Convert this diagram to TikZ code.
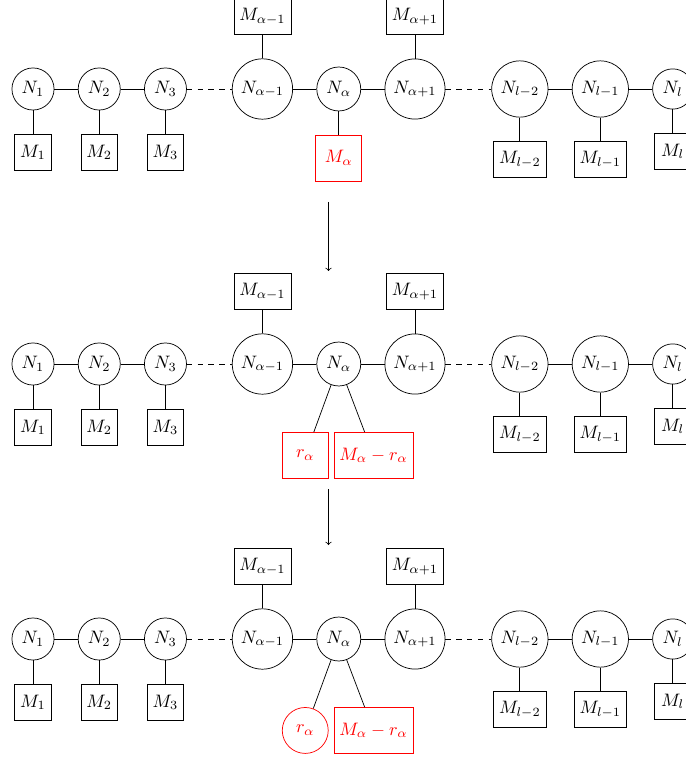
\documentclass[tikz,border=0pt]{standalone}
\usepackage{amsmath}
\usetikzlibrary{positioning}

\begin{document}
\begin{tikzpicture}[x=0.555pt,y=0.555pt,node distance=13pt,inner sep=3pt,
    gauge/.style={circle,draw},
    flavour/.style={rectangle,draw,minimum size=20pt},
    split/.style={draw=red,text=red,minimum size=25.5pt}]
  \useasboundingbox (-33,89) rectangle (652,-669);

  % the same linear quiver three times
  \foreach \r/\y in {a/0,b/-275,c/-550}{
    \node[gauge] (\r1) at (0,\y)          {$N_1$};
    \node[gauge] (\r2) [right=of \r1]     {$N_2$};
    \node[gauge] (\r3) [right=of \r2]     {$N_3$};
    \node[gauge] (\r4) [right=25pt of \r3] {$N_{\alpha-1}$};
    \node[gauge] (\r5) [right=of \r4]     {$N_\alpha$};
    \node[gauge] (\r6) [right=of \r5]     {$N_{\alpha+1}$};
    \node[gauge] (\r7) [right=25.5pt of \r6] {$N_{l-2}$};
    \node[gauge] (\r8) [right=of \r7]     {$N_{l-1}$};
    \node[gauge] (\r9) [right=of \r8]     {$N_l$};

    \node[flavour] (\r m1) [below=of \r1] {$M_1$};
    \node[flavour] (\r m2) [below=of \r2] {$M_2$};
    \node[flavour] (\r m3) [below=of \r3] {$M_3$};
    \node[flavour] (\r m4) [above=of \r4] {$M_{\alpha-1}$};
    \node[flavour] (\r m6) [above=of \r6] {$M_{\alpha+1}$};
    \node[flavour] (\r m7) [below=of \r7] {$M_{l-2}$};
    \node[flavour] (\r m8) [below=of \r8] {$M_{l-1}$};
    \node[flavour] (\r m9) [below=of \r9] {$M_l$};

    \draw (\r1) -- (\r2) -- (\r3);
    \draw[dashed] (\r3) -- (\r4);
    \draw (\r4) -- (\r5) -- (\r6);
    \draw[dashed] (\r6) -- (\r7);
    \draw (\r7) -- (\r8) -- (\r9);
    \foreach \k in {1,2,3,4,6,7,8,9}
      \draw (\r\k) -- (\r m\k);
  }

  % the flavour node that is split
  \node[split,rectangle] (ma) [below=of a5] {$M_\alpha$};
  \draw (a5) -- (ma);

  \node[split,rectangle] (rb) [below=25.4pt of b5,xshift=-18.6pt] {$r_\alpha$};
  \node[split,rectangle] (mb) [below=25.4pt of b5,xshift=19.3pt] {$M_\alpha-r_\alpha$};
  \draw (b5) -- (rb);
  \draw (b5) -- (mb);

  \node[split,circle] (rc) [below=25.4pt of c5,xshift=-18.6pt] {$r_\alpha$};
  \node[split,rectangle] (mc) [below=25.4pt of c5,xshift=19.3pt] {$M_\alpha-r_\alpha$};
  \draw (c5) -- (rc);
  \draw (c5) -- (mc);

  \coordinate (s1) at (295.5,-113);
  \coordinate (t1) at (295.5,-182);
  \coordinate (s2) at (295.5,-400);
  \coordinate (t2) at (295.5,-456);
  \draw[->] (s1) -- (t1);
  \draw[->] (s2) -- (t2);
\end{tikzpicture}
\end{document}
